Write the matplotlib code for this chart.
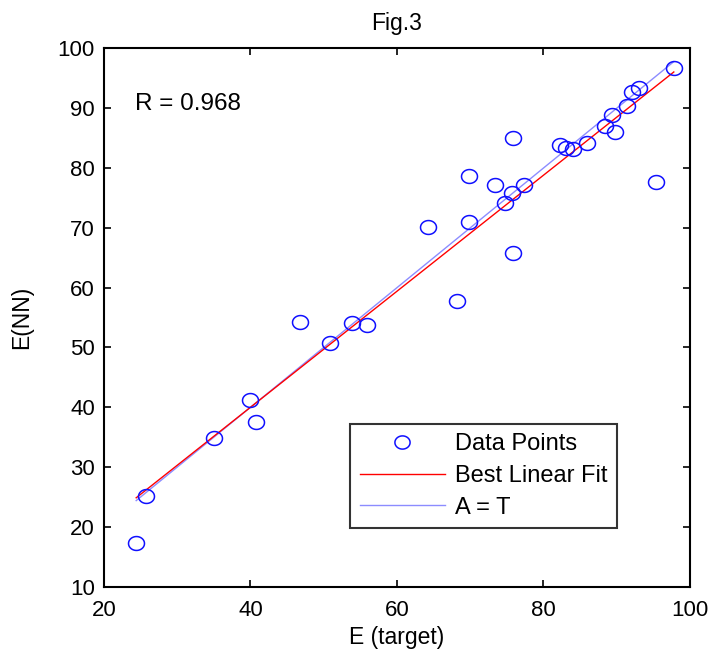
import numpy as np
import matplotlib
matplotlib.use("Agg")
import matplotlib.pyplot as plt
from matplotlib.path import Path

plt.rcParams['font.family'] = ['Liberation Sans', 'DejaVu Sans']

# Data
target = [24.4, 25.7, 35.0, 39.9, 40.7, 46.7, 50.8, 53.8, 55.9, 64.2, 68.2, 69.8,
          69.8, 73.4, 74.8, 75.7, 75.9, 75.9, 77.3, 82.2, 83.1, 84.0, 86.0, 88.4,
          89.3, 89.8, 91.4, 92.1, 93.1, 95.3, 97.8]
nn = [17.3, 25.2, 34.8, 41.3, 37.5, 54.3, 50.8, 54.1, 53.8, 70.1, 57.8, 78.6,
      71.0, 77.1, 74.1, 75.9, 85.1, 65.8, 77.1, 83.9, 83.3, 83.2, 84.2, 87.0,
      88.9, 86.0, 90.3, 92.8, 93.4, 77.7, 96.8]
fit_slope = 0.970
fit_intercept = 1.2
r_value = 0.968
x_ticks = [20, 40, 60, 80, 100]
y_ticks = [10, 20, 30, 40, 50, 60, 70, 80, 90, 100]

fig = plt.figure(figsize=(7.12, 6.53), dpi=100)
ax = fig.add_axes([0.146, 0.1015, 0.823, 0.8243])

# elliptical marker (slightly wider than tall as in the reference)
theta = np.linspace(0, 2 * np.pi, 60)
ell = Path(np.column_stack([1.15 * np.cos(theta), np.sin(theta)]), closed=True)

xs = np.array([min(target), max(target)])
ax.plot(target, nn, linestyle='none', marker=ell, markersize=11.5,
        markerfacecolor='none', markeredgecolor='#1010ff', markeredgewidth=1.1,
        label='Data Points', zorder=3)
ax.plot(xs, fit_slope * xs + fit_intercept, color='#ff0000', lw=1.0,
        label='Best Linear Fit', zorder=2)
ax.plot(xs, xs, color='#8c8cff', lw=1.0, label='A = T', zorder=1)

ax.set_xlim(20, 100)
ax.set_ylim(10, 100)
ax.set_xticks(x_ticks)
ax.set_yticks(y_ticks)
ax.tick_params(direction='in', length=5, width=1.2, top=True, right=True,
               labelsize=16)
ax.tick_params(axis='x', pad=9.5)
ax.tick_params(axis='y', pad=6.5)
for s in ax.spines.values():
    s.set_linewidth(1.5)

ax.set_title('Fig.3', fontsize=16.5, pad=13.5)
ax.set_xlabel('E (target)', fontsize=16.5, labelpad=4)
ax.set_ylabel('E(NN)', fontsize=16.5, labelpad=18)
ax.text(24.2, 90.7, 'R = %.3f' % r_value, fontsize=17.5, va='center', ha='left')

leg = ax.legend(loc='lower left', bbox_to_anchor=(0.42, 0.109), fontsize=17,
                frameon=True, fancybox=False, edgecolor='black',
                handlelength=3.6, handletextpad=0.45, borderpad=0.4,
                labelspacing=0.41, borderaxespad=0, markerscale=0.95)
leg.get_frame().set_linewidth(1.5)

fig.savefig('out.png', dpi=100)
